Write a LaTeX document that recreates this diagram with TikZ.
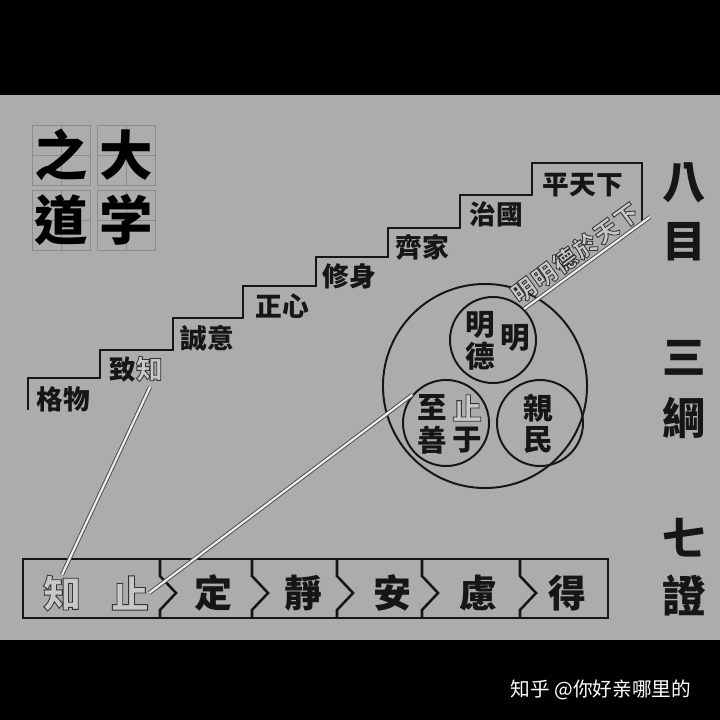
\documentclass[tikz,border=0pt]{standalone}
\usepackage{fontspec}
\usepackage{xcolor}
\usepackage{tikz}
\usetikzlibrary{calc}
\setmainfont{Noto Sans CJK TC}
\newfontfamily\wmfont{Noto Sans CJK SC}
\definecolor{paper}{RGB}{172,172,172}
\definecolor{ink}{RGB}{22,22,22}
\definecolor{hollowfill}{RGB}{200,200,200}
% outlined characters: fill + stroke text render mode
\newcommand*{\hollow}[1]{\textcolor{hollowfill}{\special{pdf:literal direct 2 Tr 0.6 w 0.2 G}#1\special{pdf:literal direct 0 Tr}}}
\tikzstyle{gridline}=[draw=black!45, line width=0.6pt]
\tikzstyle{titlech}=[inner sep=0pt, text=black, font=\fontsize{38}{38}\selectfont\bfseries]
\tikzstyle{stepl}=[inner sep=0pt, text=ink, font=\fontsize{19}{19}\selectfont\bfseries]
\tikzstyle{ring}=[circle, draw=ink, line width=1.4pt, inner sep=0pt, minimum size=2.15cm]
\tikzstyle{ringch}=[inner sep=0pt, text=ink, font=\fontsize{21}{21}\selectfont\bfseries]
\tikzstyle{boxch}=[inner sep=0pt, text=ink, font=\fontsize{27}{27}\selectfont\bfseries]
\tikzstyle{sidech}=[inner sep=0pt, text=ink, font=\fontsize{31}{31}\selectfont\bfseries]
\tikzstyle{rod}=[draw=ink!75, double=white!80!paper, double distance=1.5pt, line width=0.7pt]

\begin{document}
\begin{tikzpicture}[x=0.025cm, y=-0.025cm]
%background
\fill[black] (0,0) rectangle (720,720);
\fill[paper] (0,95) rectangle (720,640);
\useasboundingbox (0,0) rectangle (720,720);

%title grid
\foreach \x/\y in {32/125,97/125,32/190,97/190} {
\draw[gridline] (\x,\y) rectangle ++(58,60);
\draw[gridline] (\x+29,\y) -- ++(0,60);
\draw[gridline] (\x,\y+30) -- ++(58,0);
}
\node[titlech] (zhiT) at (61,155) {之};
\node[titlech] (da) at (126,155) {大};
\node[titlech] (dao) at (61,220) {道};
\node[titlech] (xue) at (126,220) {学};

%stairs
\draw[ink, line width=2pt] (28,410) -- (28,378) -- (100,378) -- (100,350) -- (173,350)
  -- (173,318) -- (243,318) -- (243,286) -- (316,286) -- (316,257) -- (388,257)
  -- (388,228) -- (460,228) -- (460,195) -- (532,195) -- (532,163) -- (642,163)
  -- (642,222);

\node[stepl] (gw) at (63,399) {格物};
\node[stepl] (zz) at (136,369) {致\hollow{知}};
\node[stepl] (cy) at (207,338) {誠意};
\node[stepl] (zx) at (282,306) {正心};
\node[stepl] (xs) at (349,276) {修身};
\node[stepl] (qj) at (422,247) {齊家};
\node[stepl] (zg) at (496,214) {治國};
\node[stepl] (pt) at (583,185) {平天下};

%circles
\node[circle, draw=ink, line width=1.4pt, minimum size=5.1cm] (big) at (485,386) {};
\node[ring] (md) at (493,340) {};
\node[ring] (zs) at (446,423) {};
\node[ring] (qm) at (540,423) {};

\node[ringch] (m1) at (480,325) {明};
\node[ringch] (de) at (480,356) {德};
\node[ringch] (m2) at (515,338) {明};
\node[ringch] (zhi3) at (432,408) {至};
\node[ringch] (shan) at (432,440) {善};
\node[ringch] (zhiC) at (467,408) {\hollow{止}};
\node[ringch] (yu) at (467,440) {于};
\node[ringch] (qin) at (538,408) {親};
\node[ringch] (min) at (538,440) {民};

%diagonal rod
\coordinate (rodtop) at (650,217);
\draw[rod] (md.45) -- (rodtop);
\node[inner sep=0pt, rotate=36, font=\fontsize{17}{17}\selectfont\bfseries] (mmd) at (575,253)
  {\hollow{明\kern1pt 明\kern1pt 德\kern1pt 於\kern1pt 天\kern1pt 下}};

%bottom row
\draw[ink, line width=1.5pt] (23,559) rectangle (608,618);
\foreach \x in {160,252,337,422,520} {
\draw[ink, line width=1.8pt] (\x,559) -- (\x,576) -- (\x+16,593) -- (\x,610) -- (\x,618);
}
\node[boxch] (zhiB) at (62,593) {\hollow{知}};
\node[boxch] (zhiS) at (130,593) {\hollow{止}};
\node[boxch] (ding) at (213,593) {定};
\node[boxch] (jing) at (303,593) {靜};
\node[boxch] (an) at (392,593) {安};
\node[boxch] (lv) at (478,593) {慮};
\node[boxch] (dei) at (567,593) {得};

%rods down
\draw[rod] (150,387) -- (zhiB.north);
\draw[rod] (zs.140) -- (zhiS.east);

%right column
\node[sidech] (ba) at (684,183) {八};
\node[sidech] (mu) at (684,242) {目};
\node[sidech] (san) at (684,358) {三};
\node[sidech] (gang) at (684,418) {綱};
\node[sidech] (qi) at (684,538) {七};
\node[sidech] (zheng) at (684,595) {證};

%watermark
\node[inner sep=0pt, text=white, font=\wmfont\fontsize{14}{14}\selectfont] (wm) at (601,690) {知乎 @你好亲哪里的};
\end{tikzpicture}
\end{document}
